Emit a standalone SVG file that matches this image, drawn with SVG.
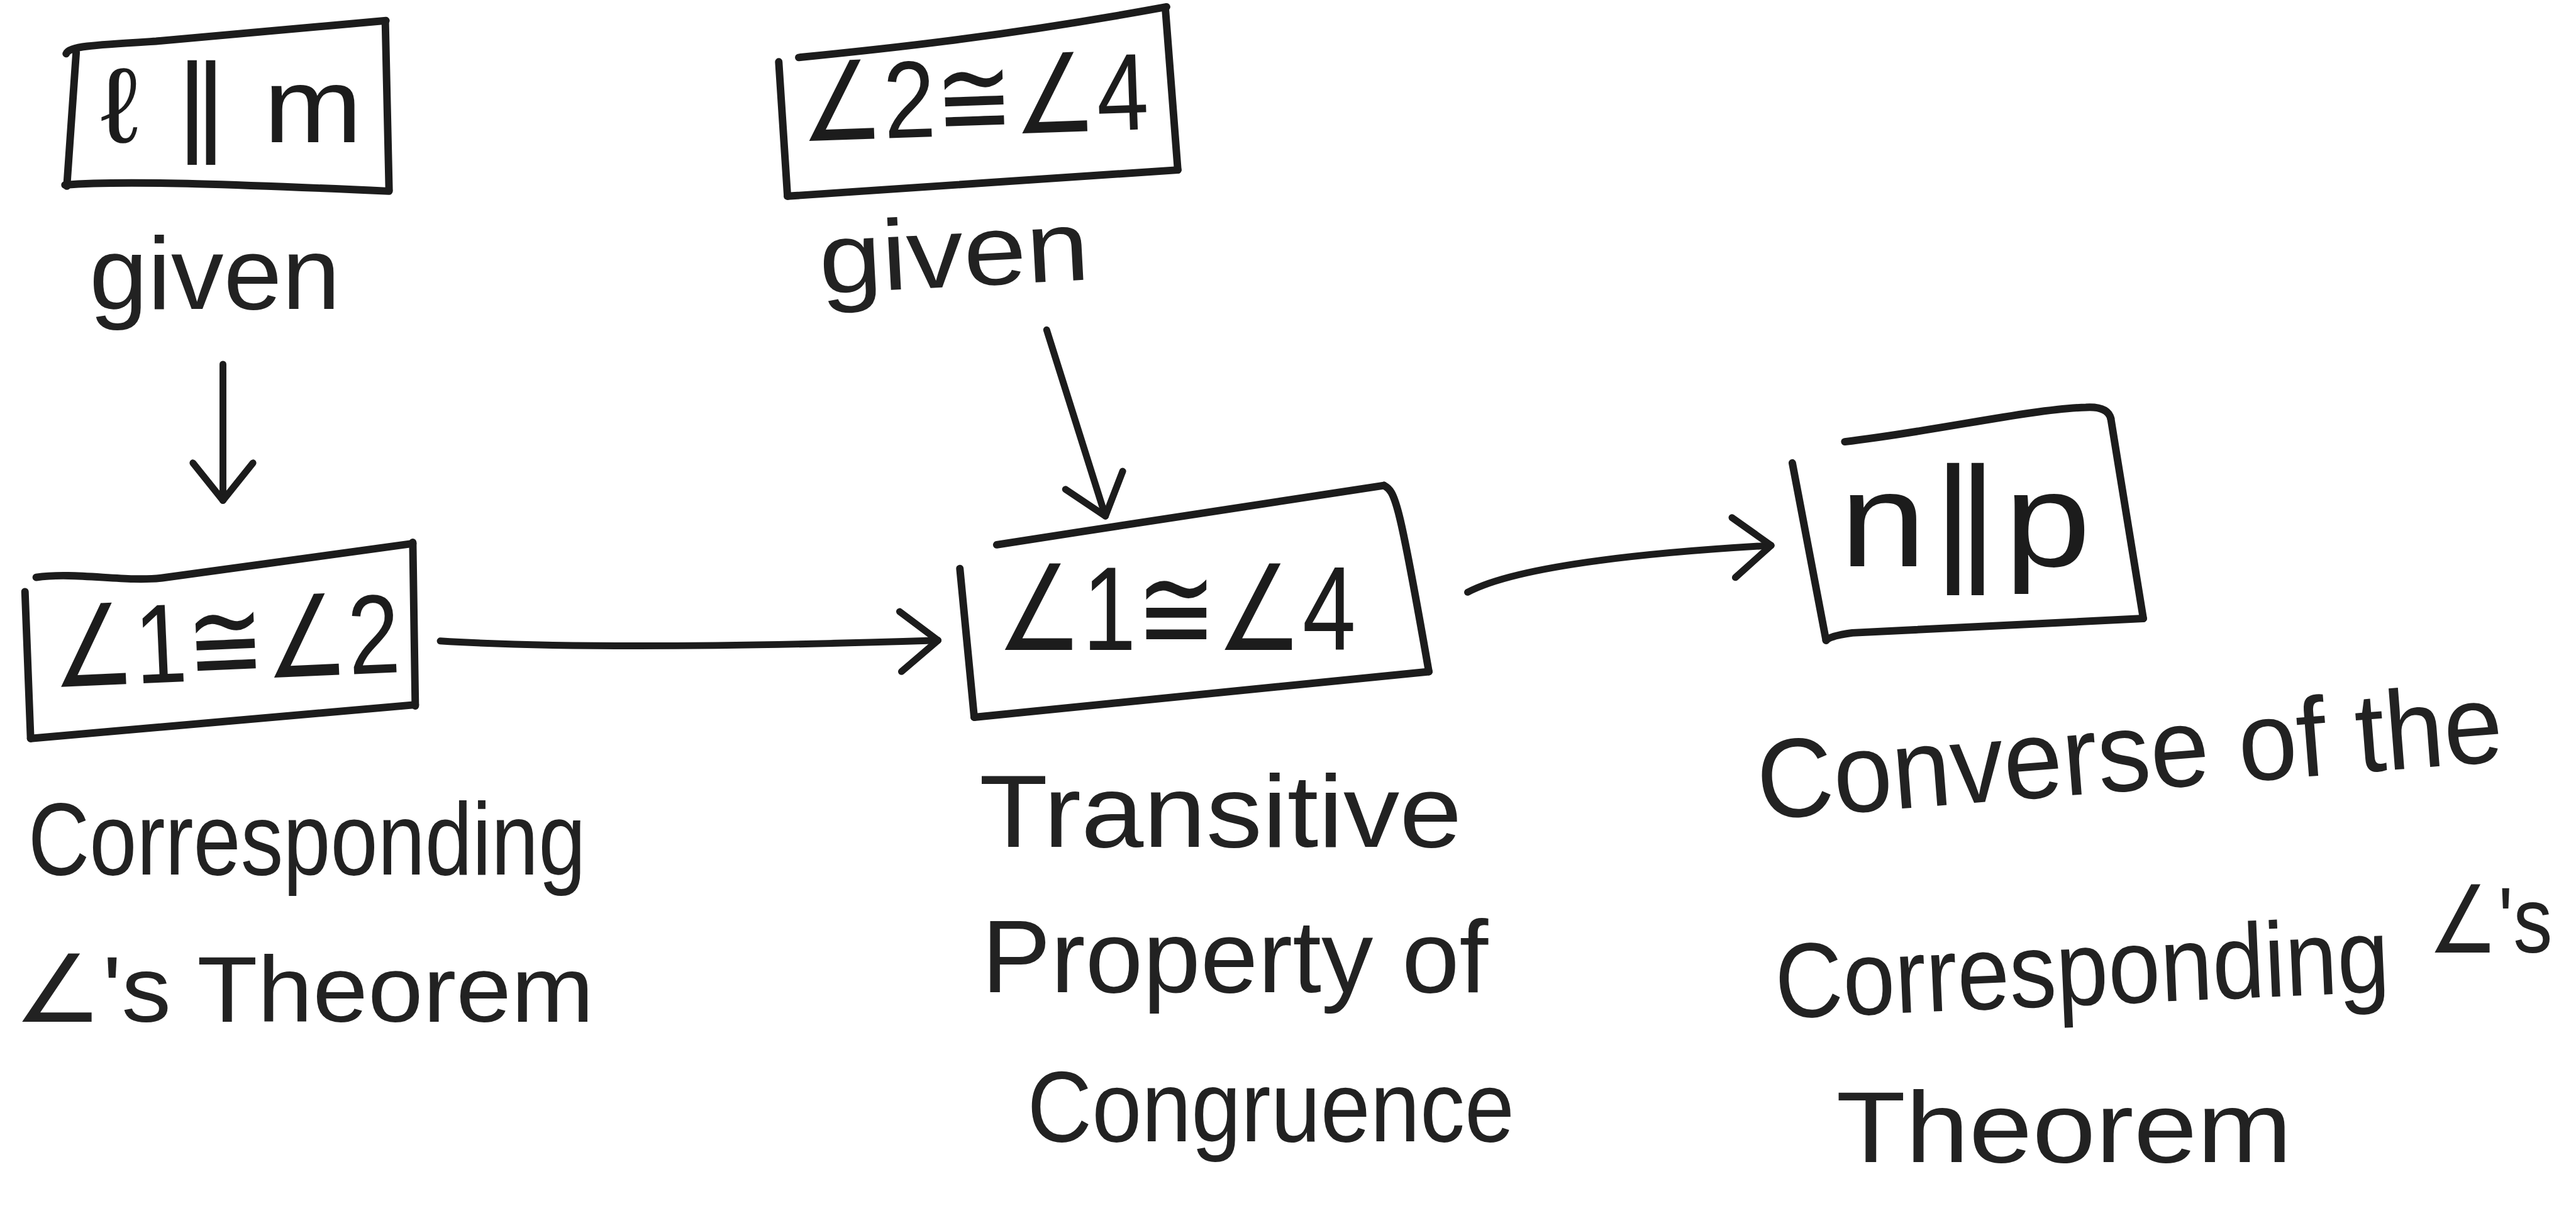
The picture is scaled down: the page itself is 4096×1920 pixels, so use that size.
<svg xmlns="http://www.w3.org/2000/svg" width="4096" height="1920" viewBox="0 0 4096 1920">
  <defs>
    <style>
      .ink { fill: none; stroke: #1c1c1c; stroke-width: 12; stroke-linecap: round; stroke-linejoin: round; }
      .wire { fill: none; stroke: #1c1c1c; stroke-width: 11; stroke-linecap: round; stroke-linejoin: round; }
      .stmt { font-family: "Liberation Sans", "DejaVu Sans", sans-serif; fill: #1c1c1c; }
      .why { font-family: "Liberation Sans", "DejaVu Sans", sans-serif; fill: #222222; }
    </style>
    <marker id="head" viewBox="-70 -60 80 120" refX="0" refY="0" markerWidth="80" markerHeight="120" markerUnits="userSpaceOnUse" orient="auto" overflow="visible">
      <path d="M-60,-48 L0,0 L-60,48" fill="none" stroke="#1c1c1c" stroke-width="11" stroke-linecap="round" stroke-linejoin="round"/>
    </marker>
  </defs>
  <rect width="4096" height="1920" fill="#ffffff"/>
  <g transform="scale(0.993)">

    <!-- given: l parallel m -->
    <g id="node-l-par-m">
      <path class="ink" d="M106,86 C110,74 150,72 250,66 L618,33"/>
      <path class="ink" d="M617,36 L623,304"/>
      <path class="ink" d="M104,296 C200,288 400,296 623,306"/>
      <path class="ink" d="M122,84 L107,298"/>
      <text class="stmt" x="161" y="228" font-size="170" textLength="419" lengthAdjust="spacingAndGlyphs">ℓ ∥ m</text>
      <text class="why" x="143" y="494" font-size="165" textLength="402" lengthAdjust="spacingAndGlyphs">given</text>
    </g>

    <!-- given: angle 2 congruent angle 4 -->
    <g id="node-a2-a4">
      <path class="ink" d="M1279,92 C1400,80 1600,60 1868,11"/>
      <path class="ink" d="M1866,13 L1886,272"/>
      <path class="ink" d="M1886,272 L1261,314"/>
      <path class="ink" d="M1247,99 L1261,314"/>
      <text class="stmt" x="1283" y="226" font-size="175" textLength="558" lengthAdjust="spacingAndGlyphs" transform="rotate(-2 1283 226)">∠2≅∠4</text>
      <text class="why" x="1314" y="470" font-size="160" textLength="433" lengthAdjust="spacingAndGlyphs" transform="rotate(-3 1314 470)">given</text>
    </g>

    <!-- angle 1 congruent angle 2 -->
    <g id="node-a1-a2">
      <path class="ink" d="M58,924 C120,915 200,932 260,925 L661,870"/>
      <path class="ink" d="M661,868 L665,1130"/>
      <path class="ink" d="M665,1128 L49,1182"/>
      <path class="ink" d="M40,947 L49,1182"/>
      <text class="stmt" x="85" y="1100" font-size="180" textLength="558" lengthAdjust="spacingAndGlyphs" transform="rotate(-2.5 85 1100)">∠1≅∠2</text>
      <text class="why" x="45" y="1400" font-size="165" textLength="893" lengthAdjust="spacingAndGlyphs">Corresponding</text>
      <text class="why" x="22" y="1635" font-size="150" textLength="929" lengthAdjust="spacingAndGlyphs">∠'s Theorem</text>
    </g>

    <!-- angle 1 congruent angle 4 -->
    <g id="node-a1-a4">
      <path class="ink" d="M1596,872 C1800,840 2000,810 2216,777"/>
      <path class="ink" d="M2216,777 C2234,786 2240,800 2288,1075"/>
      <path class="ink" d="M2288,1075 L1560,1148"/>
      <path class="ink" d="M1537,910 L1560,1148"/>
      <text class="stmt" x="1596" y="1040" font-size="190" textLength="575" lengthAdjust="spacingAndGlyphs">∠1≅∠4</text>
      <text class="why" x="1568" y="1355" font-size="165" textLength="773" lengthAdjust="spacingAndGlyphs">Transitive</text>
      <text class="why" x="1572" y="1588" font-size="165" textLength="811" lengthAdjust="spacingAndGlyphs">Property of</text>
      <text class="why" x="1645" y="1827" font-size="160" textLength="780" lengthAdjust="spacingAndGlyphs">Congruence</text>
    </g>

    <!-- n parallel p -->
    <g id="node-n-par-p">
      <path class="ink" d="M2954,707 C3100,690 3250,655 3340,652 Q3375,650 3380,670"/>
      <path class="ink" d="M3380,670 L3432,990"/>
      <path class="ink" d="M3432,990 L2966,1013 Q2930,1018 2924,1025"/>
      <path class="ink" d="M2870,741 L2924,1025"/>
      <text class="stmt" x="2946" y="906" font-size="215" textLength="402" lengthAdjust="spacingAndGlyphs">n∥p</text>
      <text class="why" x="2818" y="1312" font-size="180" textLength="1197" lengthAdjust="spacingAndGlyphs" transform="rotate(-4.5 2818 1312)">Converse of the</text>
      <text class="why" x="2845" y="1630" font-size="170" textLength="984" lengthAdjust="spacingAndGlyphs" transform="rotate(-2.5 2845 1630)">Corresponding</text>
      <text class="why" x="3888" y="1525" font-size="150" textLength="199" lengthAdjust="spacingAndGlyphs">∠'s</text>
      <text class="why" x="2940" y="1860" font-size="160" textLength="730" lengthAdjust="spacingAndGlyphs">Theorem</text>
    </g>

    <!-- proof flow -->
    <g id="connectors">
      <path class="wire" d="M357,583 L357,801" marker-end="url(#head)"/>
      <path class="wire" d="M1676,528 L1770,826" marker-end="url(#head)"/>
      <path class="wire" d="M705,1026 Q965,1042 1502,1025" marker-end="url(#head)"/>
      <path class="wire" d="M2350,948 Q2450,895 2836,873" marker-end="url(#head)"/>
    </g>
  </g>
</svg>
